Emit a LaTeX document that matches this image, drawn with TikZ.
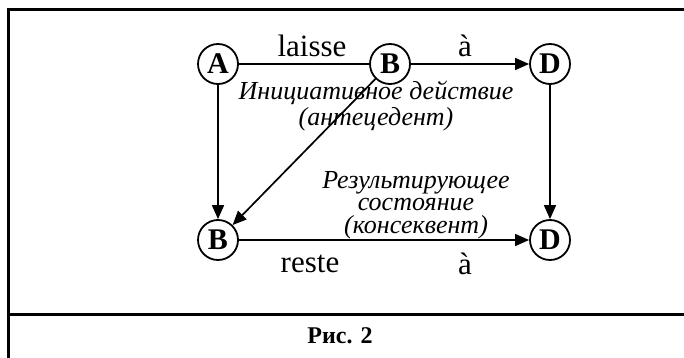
\documentclass[tikz,border=0pt]{standalone}
\usepackage{fontspec}
\setmainfont{Liberation Serif}
\usetikzlibrary{arrows.meta}
\begin{document}
\begin{tikzpicture}[x=0.5pt,y=-0.5pt,>={Triangle[length=7pt,width=6pt]}]
	\tikzstyle{node}=[circle,draw=black,line width=0.9pt,minimum size=20pt,inner sep=0pt,font=\fontsize{15}{16}\selectfont\bfseries]
	\tikzstyle{edge}=[draw=black,line width=0.85pt]
	\tikzstyle{word}=[font=\fontsize{15.5}{16}\selectfont,inner sep=0pt]
	\tikzstyle{note}=[font=\fontsize{13}{11.2}\selectfont\itshape,align=center,inner sep=0pt]
	\tikzstyle{frame}=[draw=black,line width=1.5pt]

	\useasboundingbox (0,0) rectangle (684,358);
	\path[frame] (684,10) -- (8,10) -- (8,358);
	\path[frame] (8,314) -- (684,314);

	 \node [node] (a) at (218,64) {A};
	 \node [node] (b1) at (390,64) {B};
	 \node [node] (d1) at (550,64) {D};
	 \node [node] (b2) at (218,240) {B};
	 \node [node] (d2) at (550,240) {D};

	 \path[edge] (a) -- (b1);
	 \path[edge,->] (b1) -- (d1);
	 \path[edge,->] (a) -- (b2);
	 \path[edge,->] (d1) -- (d2);
	 \path[edge,->] (b1) -- (b2);
	 \path[edge,->] (b2) -- (d2);

	 \node [word] (laisse) at (312,46) {laisse};
	 \node [word] (a1) at (465,46) {à};
	 \node [word] (reste) at (310,264) {reste};
	 \node [word] (a2) at (465,264) {à};

	 \node [note] (init) at (376,106) {Инициативное действие\\(антецедент)};
	 \node [note] (res) at (416,205) {Результирующее\\состояние\\(консеквент)};

	 \node [font=\fontsize{12}{12}\selectfont\bfseries] (fig) at (340,336) {Рис. 2};
\end{tikzpicture}
\end{document}
